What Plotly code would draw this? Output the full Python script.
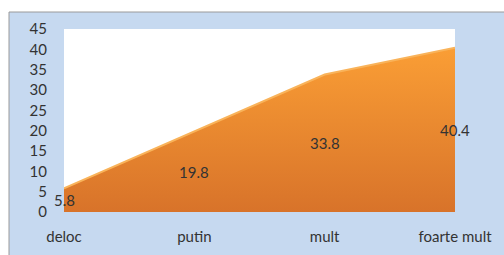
import plotly.graph_objects as go

categories = ["deloc", "putin", "mult", "foarte mult"]
values = [5.8, 19.8, 33.8, 40.4]
y_ticks = [0, 5, 10, 15, 20, 25, 30, 35, 40, 45]

FONT = "Lato"

fig = go.Figure()
fig.add_trace(go.Scatter(
    x=categories, y=values, mode="lines", fill="tozeroy",
    line=dict(color="#F9B35A", width=2),
    fillgradient=dict(type="vertical",
                      colorscale=[[0, "#D8732A"], [1, "#FA9E35"]]),
    hoverinfo="skip", showlegend=False,
))
for c, v in zip(categories, values):
    fig.add_annotation(x=c, y=v / 2, text=f"{v}", showarrow=False,
                       font=dict(size=15, color="#333333", family=FONT))

L, R, T, B = 64, 49, 29, 43
W, H = 504, 255
pw, ph = W - L - R, H - T - B
fig.add_shape(type="rect", xref="paper", yref="paper", layer="below",
              x0=(9 - L) / pw, x1=(W + 2 - L) / pw,
              y0=-(B + 2) / ph, y1=(H - B - 12) / ph,
              fillcolor="#C6D9F0", line=dict(color="#9A9A9A", width=1))
fig.add_shape(type="rect", xref="paper", yref="paper", layer="below",
              x0=0, x1=1, y0=0, y1=1, fillcolor="white", line=dict(width=0))

fig.update_layout(
    width=W, height=H, margin=dict(l=L, r=R, t=T, b=B, autoexpand=False),
    paper_bgcolor="white", plot_bgcolor="rgba(0,0,0,0)",
    font=dict(family=FONT, size=15, color="#333333"),
    xaxis=dict(type="category", range=[0, 3], showgrid=False, zeroline=False,
               showline=False, ticks="", ticklabelstandoff=14, automargin=False),
    yaxis=dict(range=[0, 45], tickvals=y_ticks, showgrid=False, zeroline=False,
               showline=False, ticks="", ticklabelstandoff=16, automargin=False),
)
fig.write_html("out.html", config={"displayModeBar": False},
               post_script="document.body.style.margin='0';document.body.style.padding='0';")
